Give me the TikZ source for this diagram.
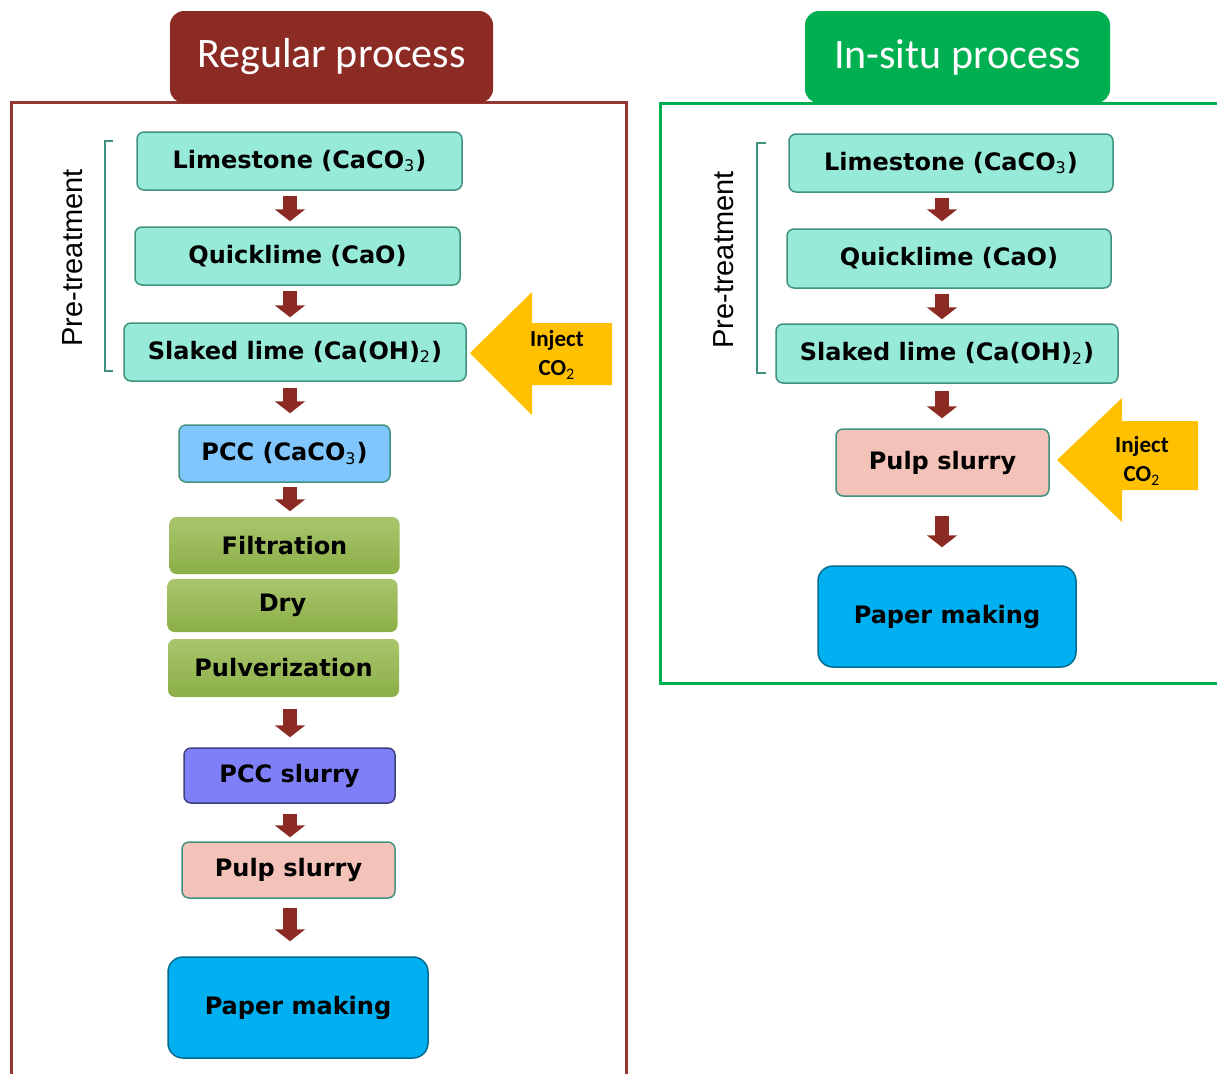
\documentclass[tikz,border=0pt]{standalone}
\usepackage{fontspec}
\setmainfont{DejaVu Sans}
\newfontfamily\titlefont{Carlito}
\newfontfamily\sidefont{Liberation Sans}
\usetikzlibrary{arrows.meta}
\definecolor{brick}{HTML}{8B2B24}
\definecolor{frameRed}{HTML}{943634}
\definecolor{frameGreen}{HTML}{00B050}
\definecolor{aqua}{HTML}{97EAD8}
\definecolor{aquaLine}{HTML}{3F9280}
\definecolor{pccBlue}{HTML}{80C6FC}
\definecolor{slurryBlue}{HTML}{7F80F8}
\definecolor{pulpPink}{HTML}{F3C2B8}
\definecolor{paperBlue}{HTML}{00B0F0}
\definecolor{gasYellow}{HTML}{FFC000}
\definecolor{greenTop}{HTML}{A8C56C}
\definecolor{greenBot}{HTML}{8CAF48}
\newcommand{\chemsub}[1]{\textsubscript{\mdseries #1}}
\begin{document}
\begin{tikzpicture}[x=0.5pt,y=-0.5pt,
    box/.style={draw=aquaLine, line width=0.75pt, rounded corners=3.5pt, inner sep=0pt,
                font=\bfseries\fontsize{12}{14}\selectfont},
    lime/.style={box, fill=aqua, minimum width=162.5pt, minimum height=29pt},
    stage/.style={box, draw=none, top color=greenTop, bottom color=greenBot, minimum width=115pt},
    title/.style={rounded corners=7pt, inner sep=0pt, text=white, minimum width=160pt,
                  minimum height=46pt, font=\titlefont\fontsize{21}{24}\selectfont},
    flow/.style={brick, line width=7pt, -{Triangle[width=15pt,length=6pt]}},
    gas/.style={font=\titlefont\bfseries\fontsize{11.5}{14.5}\selectfont, align=center},
    bracket/.style={aquaLine, line width=1.1pt},
    side/.style={rotate=90, font=\sidefont\fontsize{14.5}{16}\selectfont}
  ]
  \useasboundingbox (0,0) rectangle (1217,1073);

  % regular process
  \draw[frameRed, line width=1.5pt] (11,1080) -- (11,102) -- (626,102) -- (626,1080);
  \node[title, fill=brick, minimum width=161.5pt] (tL) at (331.5,57) {Regular process};

  \node[lime] (lsL) at (299.5,161) {Limestone (CaCO\chemsub{3})};
  \node[lime] (qlL) at (297.5,256) {Quicklime (CaO)};
  \node[lime, minimum width=171pt] (slL) at (295,352) {Slaked lime (Ca(OH)\chemsub{2})};
  \node[box, fill=pccBlue, minimum width=105.5pt, minimum height=28.5pt] (pccL) at (284.5,453.5) {PCC (CaCO\chemsub{3})};
  \node[stage, minimum height=28.5pt] (filL) at (284.5,545.5) {Filtration};
  \node[stage, minimum height=26.5pt] (dryL) at (282.5,605.5) {Dry};
  \node[stage, minimum height=29pt, minimum width=115.5pt] (pulvL) at (283.5,668) {Pulverization};
  \node[box, draw=slurryBlue!50!black, fill=slurryBlue, minimum width=105.5pt, minimum height=27.5pt] (pslL) at (289.5,775.5) {PCC slurry};
  \node[box, fill=pulpPink, minimum width=106.5pt, minimum height=28pt] (pulpL) at (288.5,870) {Pulp slurry};
  \node[box, draw=paperBlue!60!black, fill=paperBlue, rounded corners=7.5pt, minimum width=130pt, minimum height=50.5pt] (papL) at (298,1007.5) {Paper making};

  \coordinate (colL) at (290,0);
  \draw[flow, shorten <=2.5pt, shorten >=2.5pt] (lsL.south -| colL) -- (qlL.north -| colL);
  \draw[flow, shorten <=2.5pt, shorten >=2.5pt] (qlL.south -| colL) -- (slL.north -| colL);
  \draw[flow, shorten <=3pt, shorten >=5.5pt] (slL.south -| colL) -- (pccL.north -| colL);
  \draw[flow, shorten <=2pt, shorten >=2.5pt] (pccL.south -| colL) -- (filL.north -| colL);
  \draw[flow, shorten <=5.5pt, shorten >=5pt] (pulvL.south -| colL) -- (pslL.north -| colL);
  \draw[flow, shorten <=5pt, shorten >=2pt] (pslL.south -| colL) -- (pulpL.north -| colL);
  \draw[flow, shorten <=4.5pt, shorten >=7.5pt] (pulpL.south -| colL) -- (papL.north -| colL);

  \draw[bracket] (113,141) -- (105,141) -- (105,371) -- (113,371);
  \node[side] (preL) at (73,258) {Pre-treatment};

  \fill[gasYellow] (612,323) -- (532,323) -- (532,292) -- (470,353) -- (532,415) -- (532,385) -- (612,385) -- cycle;
  \node[gas] (injL) at (557,355) {Inject\\CO\chemsub{2}};

  % in-situ process
  \draw[frameGreen, line width=1.5pt] (1225,103) -- (660,103) -- (660,683) -- (1225,683);
  \node[title, fill=frameGreen, minimum width=152.5pt] (tR) at (957.5,57) {In-situ process};

  \node[lime, minimum width=162pt] (lsR) at (951,163) {Limestone (CaCO\chemsub{3})};
  \node[lime, minimum width=162pt, minimum height=29.5pt] (qlR) at (949,258.5) {Quicklime (CaO)};
  \node[lime, minimum width=171pt, minimum height=29.5pt] (slR) at (947,353.5) {Slaked lime (Ca(OH)\chemsub{2})};
  \node[box, fill=pulpPink, minimum width=106.5pt, minimum height=33.5pt] (pulpR) at (942.5,462.5) {Pulp slurry};
  \node[box, draw=paperBlue!60!black, fill=paperBlue, rounded corners=7.5pt, minimum width=129pt, minimum height=50.5pt] (papR) at (947,616.5) {Paper making};

  \coordinate (colR) at (942,0);
  \draw[flow, shorten <=2.5pt, shorten >=3.5pt] (lsR.south -| colR) -- (qlR.north -| colR);
  \draw[flow, shorten <=2.5pt, shorten >=2pt] (qlR.south -| colR) -- (slR.north -| colR);
  \draw[flow, shorten <=3.5pt, shorten >=5pt] (slR.south -| colR) -- (pulpR.north -| colR);
  \draw[flow, shorten <=9.5pt, shorten >=9pt] (pulpR.south -| colR) -- (papR.north -| colR);

  \draw[bracket] (766,143) -- (757,143) -- (757,373) -- (766,373);
  \node[side] (preR) at (724,260) {Pre-treatment};

  \fill[gasYellow] (1198,421) -- (1122,421) -- (1122,398) -- (1057,460) -- (1122,522) -- (1122,490) -- (1198,490) -- cycle;
  \node[gas] (injR) at (1142,461) {Inject\\CO\chemsub{2}};
\end{tikzpicture}
\end{document}
